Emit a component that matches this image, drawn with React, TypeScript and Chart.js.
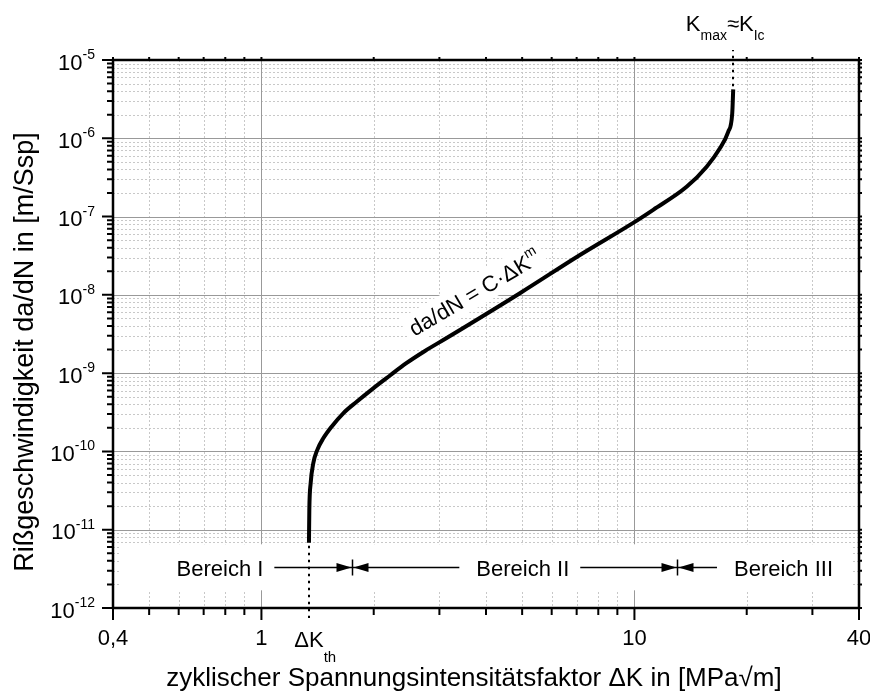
import React, { useEffect, useRef } from 'react';
import { Chart, registerables } from 'chart.js';

Chart.register(...registerables);

const FONT = '"Liberation Sans", Arial, Helvetica, sans-serif';

// Cyclic stress intensity factor range ΔK in MPa√m
const deltaK = [
  1.341, 1.344, 1.355, 1.377, 1.411, 1.465, 1.542, 1.657, 1.8, 1.994, 2.211, 2.44, 2.744,
  3.137, 4.932, 7.143, 10.0, 11.23, 13.8, 15.62, 16.95, 17.84, 18.29, 18.4,
];
// Crack growth rate da/dN in m per load cycle
const crackRate = [
  6.8e-12, 1.79e-11, 3.92e-11, 7.05e-11, 1.04e-10, 1.47e-10, 2.07e-10, 3.07e-10, 4.31e-10,
  6.4e-10, 9.33e-10, 1.33e-9, 1.92e-9, 2.81e-9, 1.05e-8, 3.23e-8, 8.5e-8, 1.22e-7, 2.4e-7,
  4.34e-7, 7.45e-7, 1.21e-6, 2.08e-6, 4.22e-6,
];

const xTickValues = [0.4, 1, 10, 40];
const xTickLabels = ['0,4', '1', '10', '40'];
const yTickExponents = [-12, -11, -10, -9, -8, -7, -6, -5];

const regionNames = ['Bereich I', 'Bereich II', 'Bereich III'];
const regionLabelK = [0.774, 5.02, 25.1];
const regionBoundaries = [1.75, 13.0];
const regionRate = 3.31e-12;

const formulaAnchor = { k: 3.72, rate: 1.08e-8 };
const formulaAngle = -30.5;

const X_MIN = 0.4;
const X_MAX = 40;
const Y_MIN = 1e-12;
const Y_MAX = 1e-5;

type Seg = { text: string; size: number; dy: number };

const formulaSegs: Seg[] = [
  { text: 'da/dN = C·ΔK', size: 22, dy: 0 },
  { text: 'm', size: 14, dy: -10 },
];

function segWidths(ctx: CanvasRenderingContext2D, segs: Seg[]) {
  return segs.map((s) => {
    ctx.font = `${s.size}px ${FONT}`;
    return ctx.measureText(s.text).width;
  });
}

function drawSegs(ctx: CanvasRenderingContext2D, segs: Seg[], x: number, y: number) {
  const w = segWidths(ctx, segs);
  let cx = x;
  segs.forEach((s, i) => {
    ctx.font = `${s.size}px ${FONT}`;
    ctx.textAlign = 'left';
    ctx.textBaseline = 'alphabetic';
    ctx.fillText(s.text, cx, y + s.dy);
    cx += w[i];
  });
}

function minorValues(lo: number, hi: number, decFrom: number, decTo: number) {
  const out: number[] = [];
  for (let d = decFrom; d <= decTo; d++) {
    for (let m = 2; m <= 9; m++) {
      const v = m * Math.pow(10, d);
      if (v > lo * 1.0001 && v < hi * 0.9999) out.push(v);
    }
  }
  return out;
}

const decorations = {
  id: 'decorations',
  beforeDatasetsDraw(chart: any) {
    const { ctx, chartArea: a, scales } = chart;
    const xs = scales.x;
    const ys = scales.y;
    ctx.save();

    // minor grid (dotted)
    ctx.strokeStyle = '#c8c8c8';
    ctx.lineWidth = 1;
    ctx.setLineDash([2, 2]);
    ctx.beginPath();
    for (const v of minorValues(X_MIN, X_MAX, -1, 1)) {
      const px = Math.round(xs.getPixelForValue(v)) + 0.5;
      ctx.moveTo(px, a.top);
      ctx.lineTo(px, a.bottom);
    }
    for (const v of minorValues(Y_MIN, Y_MAX, -12, -6)) {
      const py = Math.round(ys.getPixelForValue(v)) + 0.5;
      ctx.moveTo(a.left, py);
      ctx.lineTo(a.right, py);
    }
    ctx.stroke();

    // major grid (solid)
    ctx.setLineDash([]);
    ctx.strokeStyle = '#999999';
    ctx.beginPath();
    for (const v of [1, 10]) {
      const px = Math.round(xs.getPixelForValue(v)) + 0.5;
      ctx.moveTo(px, a.top);
      ctx.lineTo(px, a.bottom);
    }
    for (const e of yTickExponents) {
      const v = Math.pow(10, e);
      if (v <= Y_MIN || v >= Y_MAX) continue;
      const py = Math.round(ys.getPixelForValue(v)) + 0.5;
      ctx.moveTo(a.left, py);
      ctx.lineTo(a.right, py);
    }
    ctx.stroke();

    // white band behind the region labels
    const bandY = ys.getPixelForValue(regionRate);
    ctx.fillStyle = '#ffffff';
    ctx.fillRect(a.left + 8, bandY - 23, a.right - a.left - 16, 46);

    // white box behind the Paris-law label
    const fx = xs.getPixelForValue(formulaAnchor.k);
    const fy = ys.getPixelForValue(formulaAnchor.rate);
    const fw = segWidths(ctx, formulaSegs).reduce((s, v) => s + v, 0);
    ctx.translate(fx, fy);
    ctx.rotate((formulaAngle * Math.PI) / 180);
    ctx.fillRect(-fw / 2 - 5, -15, fw + 10, 30);
    ctx.restore();
  },
  afterDatasetsDraw(chart: any) {
    const { ctx, chartArea: a, scales } = chart;
    const xs = scales.x;
    const ys = scales.y;
    ctx.save();
    ctx.fillStyle = '#000000';
    ctx.strokeStyle = '#000000';

    // threshold and fracture toughness markers (dotted)
    const kth = deltaK[0];
    const kmax = deltaK[deltaK.length - 1];
    ctx.lineWidth = 2;
    ctx.setLineDash([2.5, 4.5]);
    ctx.beginPath();
    const thX = Math.round(xs.getPixelForValue(kth));
    ctx.moveTo(thX, ys.getPixelForValue(crackRate[0]) + 3);
    ctx.lineTo(thX, a.bottom + 10);
    const kmX = Math.round(xs.getPixelForValue(kmax));
    ctx.moveTo(kmX, ys.getPixelForValue(crackRate[crackRate.length - 1]) - 3);
    ctx.lineTo(kmX, a.top - 10);
    ctx.stroke();
    ctx.setLineDash([]);

    // axis ticks
    ctx.lineWidth = 2;
    ctx.beginPath();
    for (const v of xTickValues) {
      const px = xs.getPixelForValue(v);
      ctx.moveTo(px, a.bottom);
      ctx.lineTo(px, a.bottom + 12);
      ctx.moveTo(px, a.top);
      ctx.lineTo(px, a.top - 3);
    }
    for (const v of minorValues(X_MIN, X_MAX, -1, 1)) {
      const px = xs.getPixelForValue(v);
      ctx.moveTo(px, a.bottom);
      ctx.lineTo(px, a.bottom + 7);
      ctx.moveTo(px, a.top);
      ctx.lineTo(px, a.top - 3);
    }
    for (const e of yTickExponents) {
      const py = ys.getPixelForValue(Math.pow(10, e));
      ctx.moveTo(a.left, py);
      ctx.lineTo(a.left - 11, py);
      ctx.moveTo(a.right, py);
      ctx.lineTo(a.right + 3, py);
    }
    for (const v of minorValues(Y_MIN, Y_MAX, -12, -6)) {
      const py = ys.getPixelForValue(v);
      ctx.moveTo(a.left, py);
      ctx.lineTo(a.left - 6, py);
      ctx.moveTo(a.right, py);
      ctx.lineTo(a.right + 3, py);
    }
    ctx.stroke();

    // frame
    ctx.lineWidth = 2.5;
    ctx.strokeRect(a.left, a.top, a.right - a.left, a.bottom - a.top);

    // x tick labels
    ctx.font = `22px ${FONT}`;
    ctx.textAlign = 'center';
    ctx.textBaseline = 'alphabetic';
    xTickValues.forEach((v, i) => {
      ctx.fillText(xTickLabels[i], xs.getPixelForValue(v), a.bottom + 37);
    });

    // y tick labels 10^n
    for (const e of yTickExponents) {
      const py = ys.getPixelForValue(Math.pow(10, e));
      const segs: Seg[] = [
        { text: '10', size: 22, dy: 9.5 },
        { text: String(e), size: 14, dy: -1 },
      ];
      const w = segWidths(ctx, segs);
      drawSegs(ctx, segs, a.left - 18 - w[0] - w[1], py);
    }

    // ΔK_th label
    {
      ctx.font = `22px ${FONT}`;
      const wMain = ctx.measureText('ΔK').width;
      drawSegs(
        ctx,
        [
          { text: 'ΔK', size: 22, dy: 0 },
          { text: 'th', size: 15, dy: 15 },
        ],
        thX - wMain / 2,
        a.bottom + 39,
      );
    }

    // K_max ≈ K_Ic label
    {
      const segs: Seg[] = [
        { text: 'K', size: 22, dy: 0 },
        { text: 'max', size: 14, dy: 9 },
        { text: '≈', size: 22, dy: 0 },
        { text: 'K', size: 22, dy: 0 },
        { text: 'Ic', size: 14, dy: 9 },
      ];
      const w = segWidths(ctx, segs);
      drawSegs(ctx, segs, kmX - w[2] / 2 - w[0] - w[1], a.top - 29);
    }

    // region labels with arrows
    const ay = Math.round(ys.getPixelForValue(regionRate)) + 0.5;
    ctx.font = `22px ${FONT}`;
    ctx.textAlign = 'center';
    const edges = regionNames.map((name, i) => {
      const cx = xs.getPixelForValue(regionLabelK[i]);
      const w = ctx.measureText(name).width;
      ctx.fillText(name, cx, ay + 8);
      return { l: cx - w / 2, r: cx + w / 2 };
    });
    const arrowHead = (tipX: number, dir: number) => {
      ctx.beginPath();
      ctx.moveTo(tipX, ay);
      ctx.lineTo(tipX - dir * 15, ay - 4.5);
      ctx.lineTo(tipX - dir * 15, ay + 4.5);
      ctx.closePath();
      ctx.fill();
    };
    ctx.lineWidth = 1.5;
    regionBoundaries.forEach((b, i) => {
      const bx = Math.round(xs.getPixelForValue(b)) + 0.5;
      const left = edges[i].r + 11;
      const right = edges[i + 1].l - 17;
      ctx.beginPath();
      ctx.moveTo(left, ay);
      ctx.lineTo(right, ay);
      ctx.moveTo(bx, ay - 8);
      ctx.lineTo(bx, ay + 8);
      ctx.stroke();
      arrowHead(bx - 1, 1);
      arrowHead(bx + 1, -1);
    });

    // Paris-law label along the straight part of the curve
    {
      const fx = xs.getPixelForValue(formulaAnchor.k);
      const fy = ys.getPixelForValue(formulaAnchor.rate);
      const w = segWidths(ctx, formulaSegs);
      const total = w.reduce((s, v) => s + v, 0);
      ctx.save();
      ctx.translate(fx, fy);
      ctx.rotate((formulaAngle * Math.PI) / 180);
      drawSegs(ctx, formulaSegs, -total / 2, 8);
      ctx.restore();
    }

    // axis titles
    ctx.fillStyle = '#000000';
    ctx.font = `26px ${FONT}`;
    ctx.textAlign = 'center';
    ctx.textBaseline = 'alphabetic';
    ctx.fillText(
      'zyklischer Spannungsintensitätsfaktor ΔK in [MPa√m]',
      (a.left + a.right) / 2 - 12,
      a.bottom + 78,
    );
    ctx.save();
    ctx.translate(33, (a.top + a.bottom) / 2 + 18);
    ctx.rotate(-Math.PI / 2);
    ctx.font = `27px ${FONT}`;
    ctx.fillText('Rißgeschwindigkeit da/dN in [m/Ssp]', 0, 0);
    ctx.restore();

    ctx.restore();
  },
};

export default function App() {
  const canvasRef = useRef<HTMLCanvasElement | null>(null);

  useEffect(() => {
    const canvas = canvasRef.current;
    if (!canvas) return;
    const chart = new Chart(canvas, {
      type: 'scatter',
      data: {
        datasets: [
          {
            data: deltaK.map((k, i) => ({ x: k, y: crackRate[i] })),
            showLine: true,
            borderColor: '#000000',
            backgroundColor: '#000000',
            borderWidth: 4,
            pointRadius: 0,
            cubicInterpolationMode: 'monotone',
            fill: false,
          },
        ],
      },
      options: {
        responsive: false,
        animation: false,
        devicePixelRatio: 1,
        layout: { padding: { left: 113, right: 11, top: 60, bottom: 85 } },
        plugins: { legend: { display: false }, tooltip: { enabled: false } },
        scales: {
          x: { type: 'logarithmic', min: X_MIN, max: X_MAX, display: false },
          y: { type: 'logarithmic', min: Y_MIN, max: Y_MAX, display: false },
        },
      },
      plugins: [decorations],
    } as any);
    return () => chart.destroy();
  }, []);

  return (
    <div style={{ position: 'absolute', left: 0, top: 0, width: 870, height: 693, background: '#ffffff' }}>
      <canvas ref={canvasRef} width={870} height={693} style={{ display: 'block' }} />
    </div>
  );
}
